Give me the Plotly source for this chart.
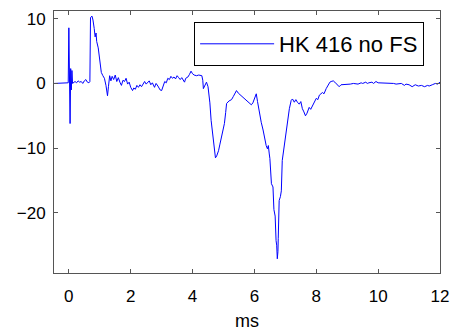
import plotly.graph_objects as go

time_ms = [-0.48, -0.05, -0.02, 0.0, 0.02, 0.04, 0.06, 0.08, 0.1, 0.12, 0.2, 0.25, 0.3, 0.35, 0.4, 0.45, 0.5, 0.55, 0.6, 0.65, 0.68,
           0.7, 0.75, 0.78, 0.82, 0.85, 0.88, 0.9, 0.95, 1.0, 1.05, 1.1, 1.15, 1.2, 1.25, 1.28, 1.32, 1.36, 1.4, 1.45, 1.5,
           1.55, 1.6, 1.65, 1.7, 1.75, 1.8, 1.85, 1.9, 1.95, 2.0, 2.06, 2.1, 2.15, 2.2, 2.25, 2.3, 2.35, 2.4, 2.45, 2.5,
           2.55, 2.6, 2.65, 2.7, 2.77, 2.82, 2.88, 2.95, 3.0, 3.05, 3.1, 3.15, 3.2, 3.25, 3.3, 3.35, 3.4, 3.45, 3.5, 3.55,
           3.6, 3.65, 3.7, 3.74, 3.78, 3.85, 3.9, 3.95, 4.0, 4.05, 4.13, 4.2, 4.3, 4.33, 4.35, 4.4, 4.45, 4.5, 4.52, 4.56,
           4.6, 4.65, 4.7, 4.74, 4.78, 4.84, 4.88, 4.93, 5.0, 5.03, 5.07, 5.1, 5.18, 5.26, 5.32, 5.38, 5.42, 5.48, 5.55, 5.6,
           5.68, 5.75, 5.82, 5.9, 5.95, 6.0, 6.06, 6.1, 6.16, 6.22, 6.28, 6.32, 6.38, 6.42, 6.45, 6.48, 6.5, 6.55, 6.6, 6.63,
           6.67, 6.7, 6.72, 6.74, 6.76, 6.77, 6.8, 6.84, 6.87, 6.9, 6.94, 6.97, 7.03, 7.06, 7.1, 7.13, 7.19, 7.23, 7.29, 7.34,
           7.39, 7.45, 7.5, 7.55, 7.6, 7.65, 7.7, 7.77, 7.82, 7.87, 7.93, 8.0, 8.05, 8.1, 8.2, 8.25, 8.32, 8.38, 8.44, 8.48,
           8.55, 8.6, 8.65, 8.7, 8.74, 8.8, 8.9, 9.0, 9.1, 9.2, 9.29, 9.35, 9.45, 9.5, 9.6, 9.65, 9.7, 9.8, 9.85, 9.93,
           10.0, 10.1, 10.2, 10.3, 10.4, 10.5, 10.58, 10.65, 10.75, 10.85, 10.9, 11.0, 11.1, 11.2, 11.3, 11.4, 11.5, 11.6,
           11.65, 11.75, 11.85, 11.92, 12.0]

signal = [0, 0, 0.1, 8.6, -0.5, -6.2, 2.3, -1.0, 2.0, 0.0, 0.3, 0.1, 0.4, 0.2, 0.3, 0.0, 0.4, 0.6, 0.2, 0.1, 0.3,
          10.2, 10.4, 9.8, 8.5, 7.2, 7.8, 6.5, 5.5, 3.0, 1.7, 1.2, 0.8, -0.3, -1.9, -0.5, 1.2, 0.4, 1.1, 0.6, 1.3,
          0.3, 0.9, 0.2, -0.3, 0.5, 0.3, 0.8, -0.1, 0.2, -0.6, -1.1, -0.7, -0.9, -0.3, -0.6, -0.2, -0.5, 0.0, 0.3, -0.1,
          0.2, 0.4, -0.2, 0.1, -0.6, 0.0, -0.4, -1.0, -1.1, -0.3, 0.3, 0.1, 0.8, 0.6, 1.1, 0.8, 1.0, 0.7, 1.2, 0.9,
          0.6, 0.9, 0.6, 0.2, 0.8, 1.0, 1.4, 1.9, 1.5, 1.3, 1.2, 1.3, 1.2, 0.5, -0.8, -0.2, 0.2, -0.5, -1.1, -3.0,
          -5.7, -8.0, -10.5, -11.5, -11.2, -10.4, -9.5, -8.4, -7.0, -6.2, -4.5, -3.1, -2.7, -2.5, -2.0, -1.5, -1.1, -1.5, -1.8, -2.0,
          -2.4, -2.6, -3.0, -3.3, -3.0, -2.2, -1.6, -2.8, -4.6, -6.0, -7.2, -8.4, -9.6, -10.1, -9.6, -10.9, -11.6, -15.5, -16.0, -19.5,
          -20.5, -24.3, -25.0, -27.1, -26.0, -24.0, -18.1, -17.5, -16.6, -11.9, -10.5, -8.8, -7.3, -5.7, -4.5, -3.9, -2.6, -2.4, -2.9, -2.5,
          -2.9, -3.2, -2.8, -3.9, -4.4, -5.0, -4.6, -3.7, -4.0, -3.5, -2.9, -2.3, -2.5, -1.8, -1.4, -1.6, -0.8, -0.3, 0.2, 0.3,
          0.4, 0.2, 0.0, -0.3, -0.5, -0.2, -0.2, -0.1, -0.1, 0.0, 0.0, -0.1, 0.1, 0.0, 0.2, 0.0, 0.1, 0.2, 0.0, 0.3,
          0.1, 0.1, 0.0, 0.1, 0.0, 0.0, -0.1, -0.1, 0.0, -0.3, -0.1, -0.2, -0.5, -0.2, -0.4, -0.3, -0.5, -0.3,
          -0.4, -0.2, 0.0, -0.1, 0.2]

x_ticks = [0, 2, 4, 6, 8, 10, 12]
y_ticks = [-20, -10, 0, 10]
series_name = "HK 416 no FS"
x_label = "ms"

fig = go.Figure()
fig.add_trace(go.Scatter(x=time_ms, y=signal, mode="lines", name=series_name,
                         line=dict(color="#0000ff", width=1)))

axis_common = dict(showline=True, linecolor="#555555", linewidth=1, mirror="ticks",
                   ticks="inside", ticklen=4, tickcolor="#555555", showgrid=False,
                   zeroline=False, automargin=False,
                   tickfont=dict(family="Liberation Sans", size=17, color="black"))

fig.update_layout(
    width=456, height=335,
    margin=dict(l=54, r=16, t=11, b=62),
    paper_bgcolor="white", plot_bgcolor="white",
    showlegend=True,
    legend=dict(x=0.363, y=0.958, xanchor="left", yanchor="top",
                bordercolor="black", borderwidth=1, bgcolor="white",
                font=dict(family="Liberation Sans", size=22, color="black"),
                itemwidth=74, tracegroupgap=0),
    xaxis=dict(range=[-0.48, 12], tickvals=x_ticks, ticklabelstandoff=8,
               title=dict(text=x_label, font=dict(family="Liberation Sans", size=18, color="black"), standoff=8),
               **axis_common),
    yaxis=dict(range=[-29.3, 11.2], tickvals=y_ticks, ticklabelstandoff=4, **axis_common),
)

fig.write_html("out.html", config={"displayModeBar": False},
               post_script="document.body.style.margin='0';document.body.style.overflow='hidden';")
